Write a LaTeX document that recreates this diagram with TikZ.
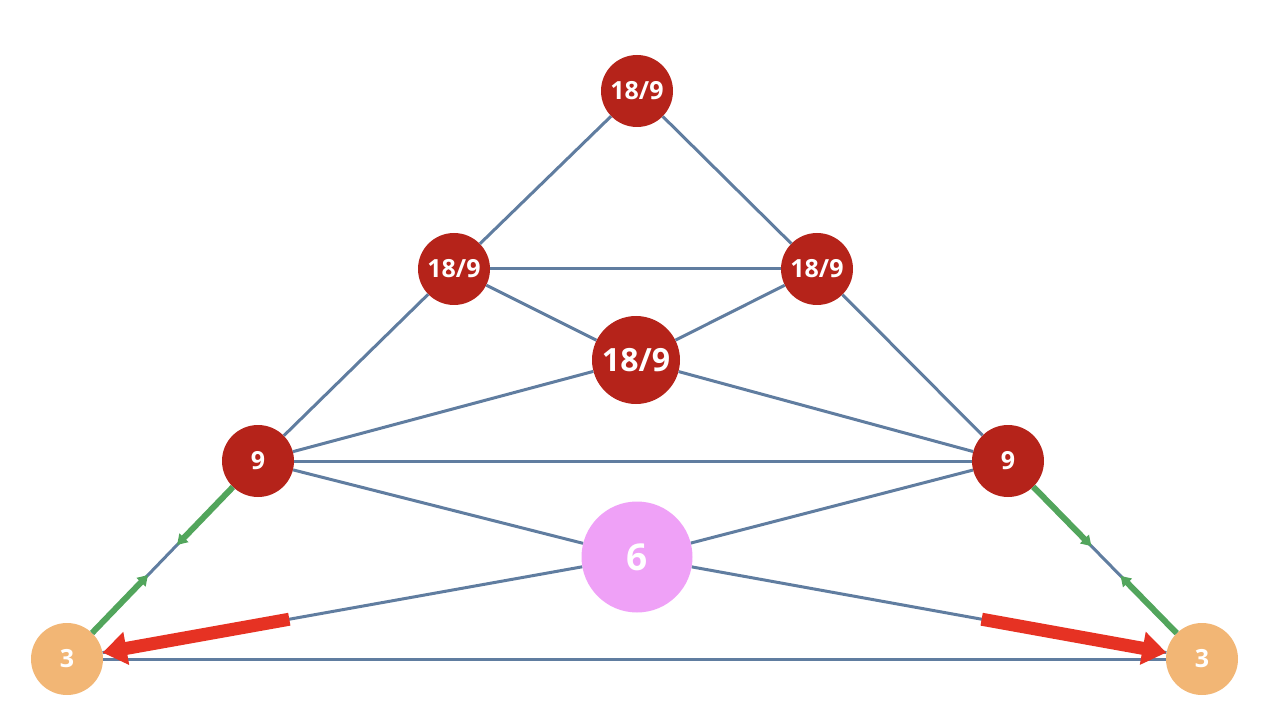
\documentclass[tikz,border=0pt]{standalone}
\usepackage{fontspec}
\setmainfont{Open Sans}
\usetikzlibrary{arrows.meta,calc}
\definecolor{edgeblue}{RGB}{96,125,160}
\definecolor{nodered}{RGB}{181,35,26}
\definecolor{nodeorange}{RGB}{242,182,117}
\definecolor{nodepink}{RGB}{239,161,247}
\definecolor{arrowred}{RGB}{230,50,35}
\definecolor{arrowgreen}{RGB}{82,165,92}
\tikzset{
  vtx/.style={circle,inner sep=0pt,text=white,font=\bfseries\fontsize{25}{25}\selectfont},
  rednode/.style={vtx,fill=nodered,minimum size=72pt},
  bigred/.style={vtx,fill=nodered,minimum size=88pt,font=\bfseries\fontsize{32}{32}\selectfont},
  sixnode/.style={vtx,fill=nodepink,minimum size=111pt,font=\bfseries\fontsize{37}{37}\selectfont},
  threenode/.style={vtx,fill=nodeorange,minimum size=72pt},
  edge/.style={draw=edgeblue,line width=3pt},
  greenarrow/.style={draw=arrowgreen,line width=6pt,-{Triangle[length=10pt,width=12pt]}},
  redarrow/.style={draw=arrowred,line width=13pt,-{Triangle[length=24pt,width=32pt]}}
}
\begin{document}
\begin{tikzpicture}[x=1pt,y=-1pt]
\useasboundingbox (0,0) rectangle (1270,722);
\node[rednode] (T) at (637,91) {18/9};
\node[rednode] (L2) at (454,269) {18/9};
\node[rednode] (R2) at (817,269) {18/9};
\node[bigred] (C) at (636,360) {18/9};
\node[rednode] (L9) at (258,461) {9};
\node[rednode] (R9) at (1008,461) {9};
\node[sixnode] (S) at (637,557) {6};
\node[threenode] (L3) at (67,659) {3};
\node[threenode] (R3) at (1202,659) {3};
\draw[edge] (T) -- (L2);
\draw[edge] (T) -- (R2);
\draw[edge] (L2) -- (R2);
\draw[edge] (L2) -- (C);
\draw[edge] (R2) -- (C);
\draw[edge] (L2) -- (L9);
\draw[edge] (R2) -- (R9);
\draw[edge] (L9) -- (C);
\draw[edge] (R9) -- (C);
\draw[edge] (L9) -- (R9);
\draw[edge] (L9) -- (S);
\draw[edge] (R9) -- (S);
\draw[edge] (S) -- (L3);
\draw[edge] (S) -- (R3);
\draw[edge] (L3) -- (R3);
\draw[edge] (L9) -- (L3);
\draw[edge] (R9) -- (R3);
\coordinate (gl1) at ($(L9)!0.424!(L3)$);
\coordinate (gl2) at ($(L3)!0.424!(L9)$);
\coordinate (gr1) at ($(R9)!0.43!(R3)$);
\coordinate (gr2) at ($(R3)!0.42!(R9)$);
\draw[greenarrow] (L9) -- (gl1);
\draw[greenarrow] (L3) -- (gl2);
\draw[greenarrow] (R9) -- (gr1);
\draw[greenarrow] (R3) -- (gr2);
\coordinate (rl) at ($(S)!0.61!(L3)$);
\coordinate (rr) at ($(S)!0.61!(R3)$);
\draw[redarrow] (rl) -- (L3);
\draw[redarrow] (rr) -- (R3);
\end{tikzpicture}
\end{document}
